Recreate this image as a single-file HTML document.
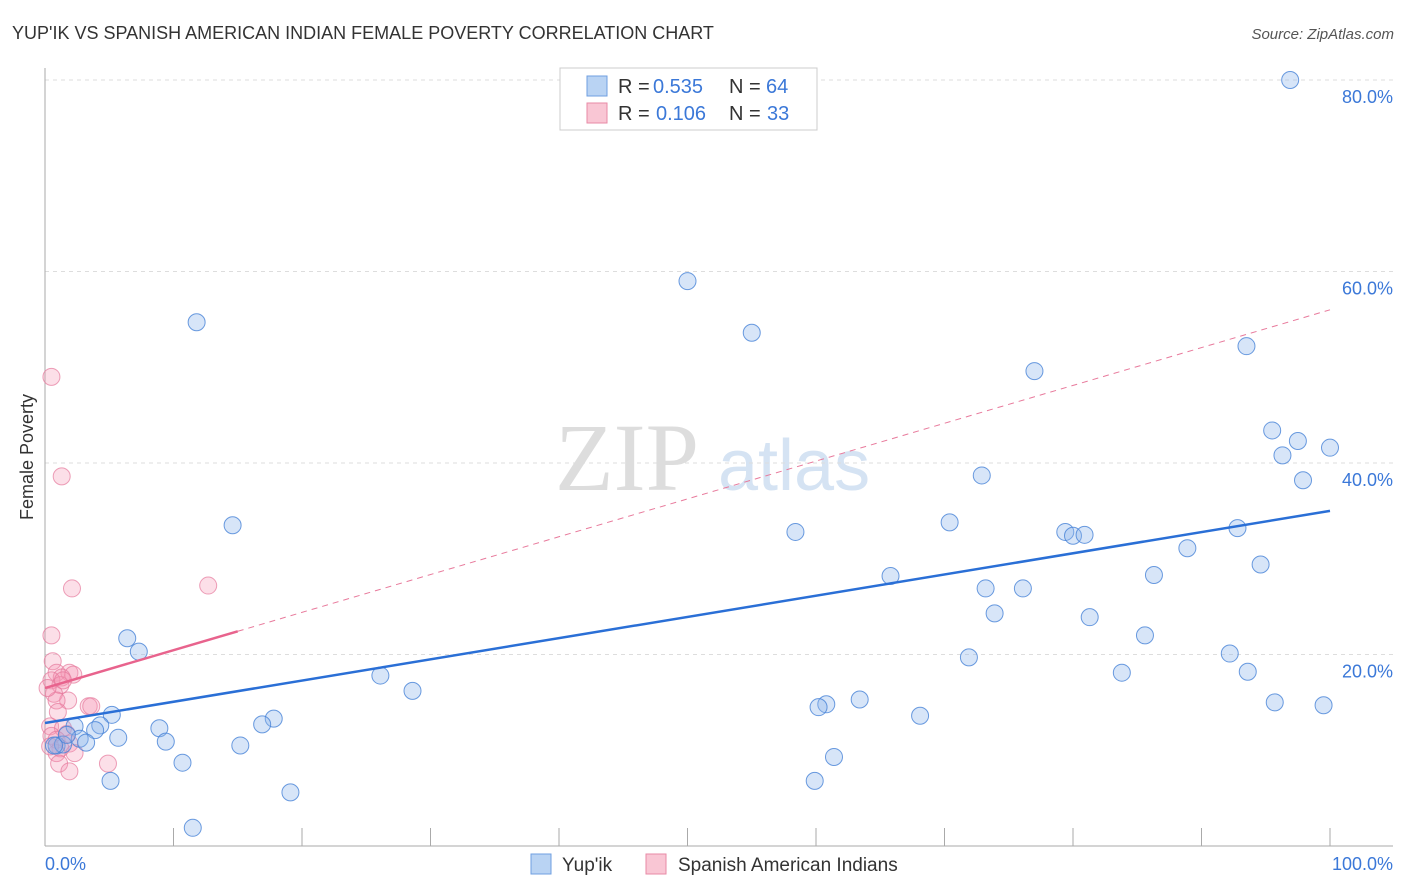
<!DOCTYPE html>
<html><head><meta charset="utf-8"><style>
body{margin:0;background:#fff;font-family:"Liberation Sans",sans-serif;}
svg{display:block}
</style></head><body>
<svg id="chart" width="1406" height="892" xmlns="http://www.w3.org/2000/svg" font-family="Liberation Sans, sans-serif">
<text x="12" y="39" font-size="18" fill="#333">YUP'IK VS SPANISH AMERICAN INDIAN FEMALE POVERTY CORRELATION CHART</text>
<text x="1394" y="39" font-size="15" fill="#555" text-anchor="end" font-style="italic">Source: ZipAtlas.com</text>
<text transform="translate(33,457) rotate(-90)" font-size="18" fill="#333" text-anchor="middle">Female Poverty</text>
<g><text x="555" y="490" font-size="96" fill="#ddd" font-family="Liberation Serif, serif">ZIP</text><text x="718" y="490" font-size="72" fill="#d5e3f3">atlas</text></g>
<g id="grid"></g><g id="axes"></g><g id="pts"></g><g id="trends"></g>
<g>
<rect x="560" y="68" width="257" height="62" fill="#fff" stroke="#ccc"/>
<rect x="587" y="76" width="20" height="20" fill="#b9d3f3" stroke="#6f9fe0"/>
<text x="618" y="93" font-size="20" fill="#333">R =</text>
<text x="653" y="93" font-size="20" fill="#3b78d8">0.535</text>
<text x="729" y="93" font-size="20" fill="#333">N =</text>
<text x="766" y="93" font-size="20" fill="#3b78d8">64</text>
<rect x="587" y="103" width="20" height="20" fill="#f9c6d4" stroke="#e88aa6"/>
<text x="618" y="120" font-size="20" fill="#333">R =</text>
<text x="656" y="120" font-size="20" fill="#3b78d8">0.106</text>
<text x="729" y="120" font-size="20" fill="#333">N =</text>
<text x="767" y="120" font-size="20" fill="#3b78d8">33</text>
</g>
<g>
<rect x="531" y="854" width="20" height="20" fill="#b9d3f3" stroke="#6f9fe0"/>
<text x="562" y="871" font-size="19" fill="#333">Yup'ik</text>
<rect x="646" y="854" width="20" height="20" fill="#f9c6d4" stroke="#e88aa6"/>
<text x="678" y="871" font-size="19" fill="#333">Spanish American Indians</text>
</g>
<text x="45" y="870" font-size="18" fill="#3b78d8">0.0%</text>
<text x="1393" y="870" font-size="18" fill="#3b78d8" text-anchor="end">100.0%</text>
</svg>
<script>
const yTicks=[20,40,60,80];
const yTickLabels=["20.0%","40.0%","60.0%","80.0%"];
const xTicks=[0,10,20,30,40,50,60,70,80,90,100];
const blueX=[96.9,50.0,11.8,55.0,93.5,77.0,95.5,97.5,96.3,100,97.9,72.9,14.6,70.4,58.4,79.4,80.0,80.9,92.8,88.9,94.6,65.8,86.3,73.2,76.1,73.9,81.3,85.6,6.4,7.3,71.9,92.2,83.8,93.6,26.1,28.6,63.4,60.8,60.2,95.7,99.5,5.2,17.8,68.1,16.9,8.9,4.3,2.3,3.9,5.7,2.7,9.4,3.2,15.2,0.9,1.4,61.4,10.7,5.1,59.9,19.1,11.5,1.7,0.7];
const blueY=[80.0,59.0,54.7,53.6,52.2,49.6,43.4,42.3,40.8,41.6,38.2,38.7,33.5,33.8,32.8,32.8,32.4,32.5,33.2,31.1,29.4,28.2,28.3,26.9,26.9,24.3,23.9,22.0,21.7,20.3,19.7,20.1,18.1,18.2,17.8,16.2,15.3,14.8,14.5,15.0,14.7,13.7,13.3,13.6,12.7,12.3,12.6,12.5,12.1,11.3,11.2,10.9,10.8,10.5,10.5,10.6,9.3,8.7,6.8,6.8,5.6,1.9,11.6,10.5];
const pinkX=[0.5,1.3,2.1,12.7,0.5,0.6,0.9,1.9,2.2,1.3,0.5,1.2,0.7,1.8,0.9,3.4,3.6,0.4,1.4,1.7,0.5,0.9,1.9,1.2,2.3,0.9,1.1,4.9,1.9,0.2,0.4,1.4,1.0];
const pinkY=[49.0,38.6,26.9,27.2,22.0,19.3,18.1,18.1,17.9,17.6,17.3,16.8,15.9,15.2,15.2,14.6,14.6,12.5,12.3,11.7,11.5,11.1,10.7,10.2,9.7,9.7,8.6,8.6,7.8,16.5,10.4,17.3,14.0];
const blueTrend=[12.85,35.0];
const pinkTrend=[16.5,56.0];
const pinkSolidEnd=15;
const X=v=>45+v*12.85, Y=v=>846-v*9.575;
const NS="http://www.w3.org/2000/svg";
function mk(t,a,p){const e=document.createElementNS(NS,t);for(const k in a)e.setAttribute(k,a[k]);document.getElementById(p).appendChild(e);return e;}
yTicks.forEach((t,i)=>{
 const l=mk('line',{x1:45,x2:1393,y1:Y(t),y2:Y(t),stroke:'#ddd','stroke-dasharray':'4,4'},'grid');
 
 
 const tx=mk('text',{x:1393,y:Y(t)+23,'font-size':18,fill:'#3b78d8','text-anchor':'end'},'grid');
 tx.textContent=yTickLabels[i];
 
 
});
const ya=mk('line',{x1:45,x2:45,y1:68,y2:846,stroke:'#aaa'},'axes');


const xa=mk('line',{x1:45,x2:1393,y1:846,y2:846,stroke:'#aaa'},'axes');


xTicks.forEach(t=>{
 const l=mk('line',{x1:X(t),x2:X(t),y1:828,y2:846,stroke:'#aaa'},'axes');
 
 
});
pinkX.forEach((v,i)=>{
 const c=mk('circle',{cx:X(v),cy:Y(pinkY[i]),r:8.5,fill:'rgba(244,150,180,0.3)',stroke:'rgba(230,120,155,0.7)','stroke-width':1},'pts');
 
 
});
blueX.forEach((v,i)=>{
 const c=mk('circle',{cx:X(v),cy:Y(blueY[i]),r:8.5,fill:'rgba(140,180,235,0.35)',stroke:'rgba(70,130,215,0.8)','stroke-width':1},'pts');
 
 
});
const pv=x=>pinkTrend[0]+(pinkTrend[1]-pinkTrend[0])*x/100;
const bt=mk('line',{x1:X(0),y1:Y(blueTrend[0]),x2:X(100),y2:Y(blueTrend[1]),stroke:'#2a6fd6','stroke-width':2.5},'trends');


const pd=mk('line',{x1:X(pinkSolidEnd),y1:Y(pv(pinkSolidEnd)),x2:X(100),y2:Y(pv(100)),stroke:'#e87a9c','stroke-width':1,'stroke-dasharray':'6,5'},'trends');


const ps=mk('line',{x1:X(0),y1:Y(pv(0)),x2:X(pinkSolidEnd),y2:Y(pv(pinkSolidEnd)),stroke:'#e8638d','stroke-width':2.5},'trends');


</script>
</body></html>
